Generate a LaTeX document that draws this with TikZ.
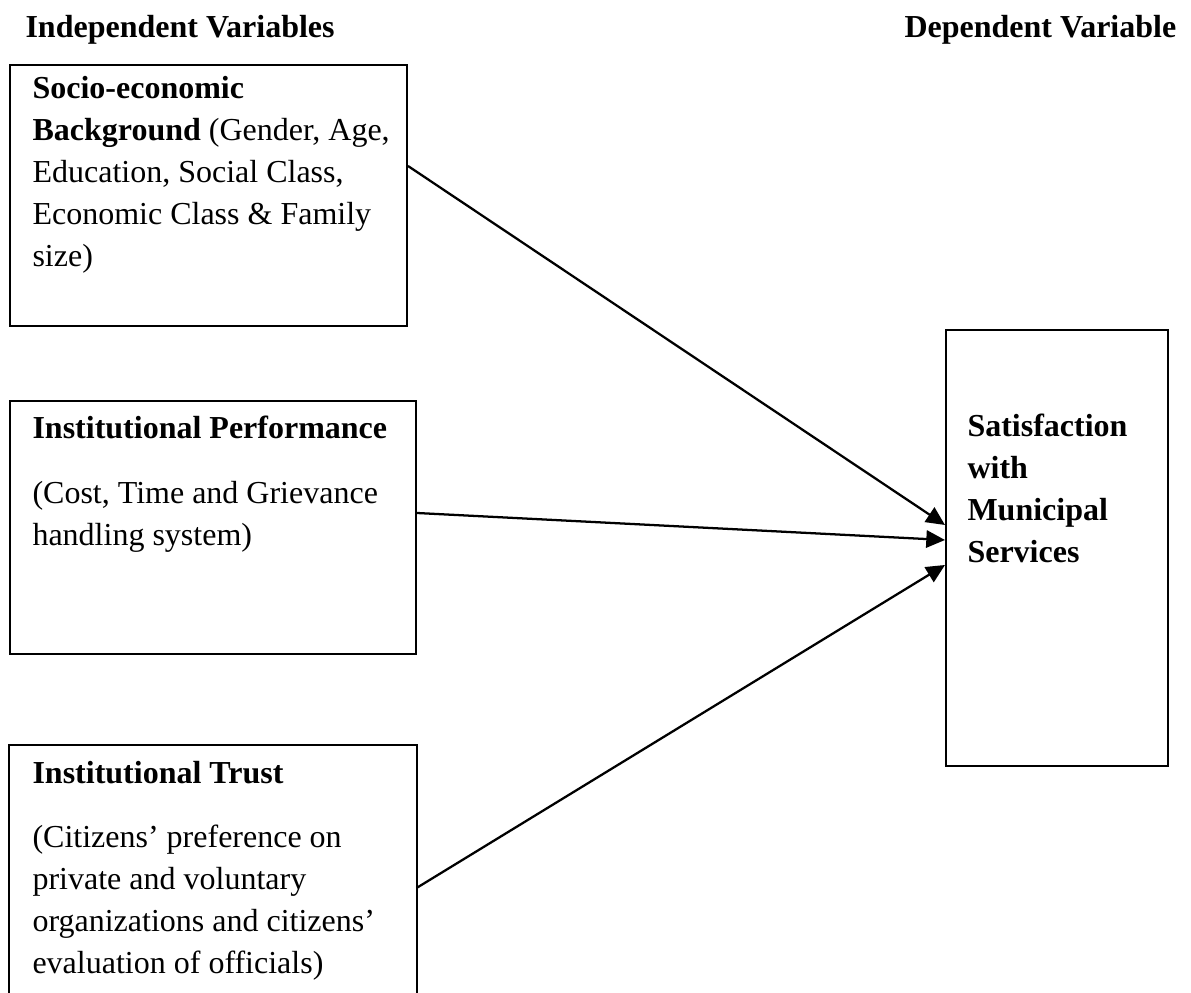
\documentclass[tikz,border=0pt]{standalone}
\usepackage{fontspec}
\setmainfont{Liberation Serif}
\usetikzlibrary{arrows.meta,fit}
\begin{document}
\begin{tikzpicture}[x=0.375pt,y=-0.375pt,
  boxline/.style={draw=black,line width=0.75pt},
  frame/.style={boxline,inner sep=0pt},
  openframe/.style={inner sep=0pt},
  txt/.style={anchor=north west,inner sep=0pt,align=left,
    font=\fontsize{12}{15.75}\selectfont,
    execute at begin node={\rule{0pt}{10pt}}},
  conn/.style={line width=0.85pt,-{Triangle[length=7pt,width=6.5pt]}}]
\useasboundingbox[fill=white] (0,0) rectangle (1191,993);

% headers
\node[txt] (hi) at (25,10.3) {\textbf{Independent Variables}};
\node[txt] (hd) at (904,10.3) {\textbf{Dependent Variable}};

% boxes
\node[frame,fit={(10,65) (407,326)}] (b1) {};
\node[frame,fit={(10,401) (416,654)}] (b2) {};
\node[openframe,fit={(10,746) (416,993)}] (b3) {};
\draw[boxline] (b3.south west) -- (b3.north west) -- (b3.north east) -- (b3.south east);
\node[frame,fit={(946,330) (1168,766)}] (dv) {};

% texts
\node[txt] (t1) at (32,75.3) {\textbf{Socio-economic}\\
  \textbf{Background} (Gender, Age,\\
  Education, Social Class,\\
  Economic Class \& Family\\
  size)};
\node[txt] (t2a) at (32,411.3) {\textbf{Institutional Performance}};
\node[txt] (t2b) at (32,480.3) {(Cost, Time and Grievance\\ handling system)};
\node[txt] (t3a) at (32,756.3) {\textbf{Institutional Trust}};
\node[txt] (t3b) at (32,824.3) {(Citizens’ preference on\\
  private and voluntary\\
  organizations and citizens’\\
  evaluation of officials)};
\node[txt] (t4) at (967,413.3) {\textbf{Satisfaction}\\ \textbf{with}\\ \textbf{Municipal}\\ \textbf{Services}};

% connectors
\draw[conn] (b1.east |- 0,166) -- (dv.west |- 0,525);
\draw[conn] (b2.east |- 0,513) -- (dv.west |- 0,540);
\draw[conn] (b3.east |- 0,888) -- (dv.west |- 0,565);
\end{tikzpicture}
\end{document}
